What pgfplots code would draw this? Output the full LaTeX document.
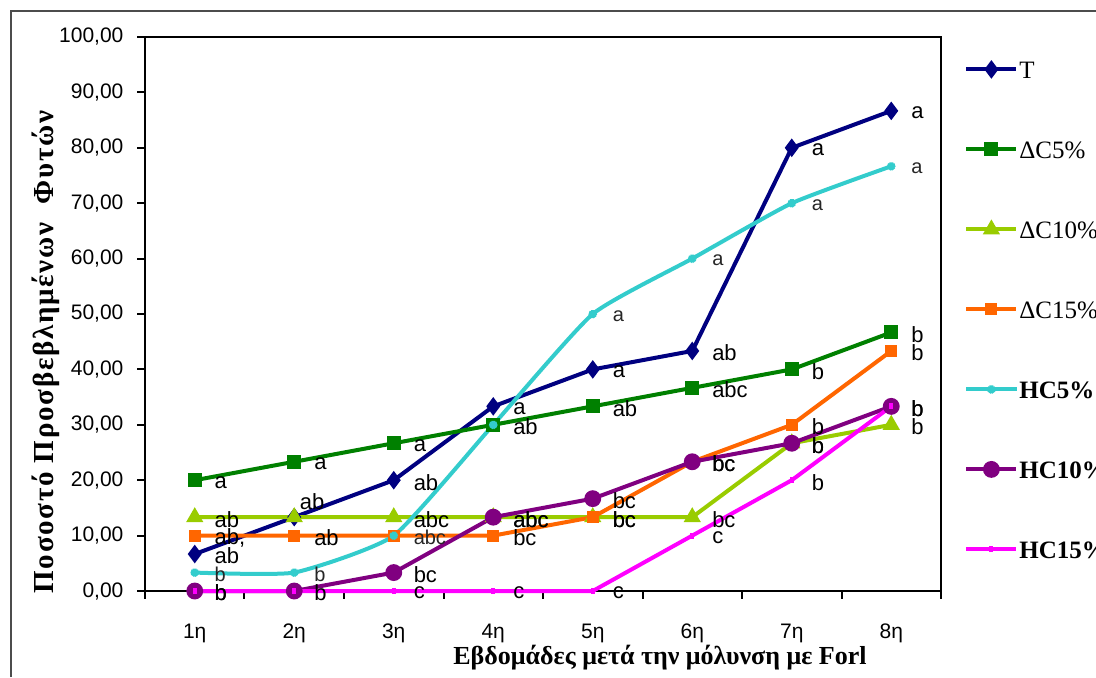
\documentclass[border=0pt]{standalone}
\usepackage{fontspec}
\setmainfont{Liberation Sans}
\newfontfamily\tnr{Liberation Serif}
\newfontfamily\tnrwide[LetterSpace=6]{Liberation Serif}
\usepackage{pgfplots}
\pgfplotsset{compat=1.18}

\definecolor{cT}{RGB}{0,0,128}
\definecolor{cDa}{RGB}{0,128,0}
\definecolor{cDb}{RGB}{153,204,0}
\definecolor{cDc}{RGB}{255,102,0}
\definecolor{cHa}{RGB}{51,204,204}
\definecolor{cHb}{RGB}{128,0,128}
\definecolor{cHc}{RGB}{255,0,255}

\begin{document}
\begin{tikzpicture}
\path[use as bounding box] (-72.5pt,-43pt) rectangle (475.5pt,295.5pt);
\draw[black!70, line width=0.7pt] (-67pt,-43pt) -- (-67pt,290pt) -- (475.5pt,290pt);
\begin{axis}[
  at={(0,0)}, anchor=south west,
  scale only axis, width=398pt, height=277pt,
  xmin=0.5, xmax=8.5, ymin=0, ymax=100,
  clip=false,
  axis line style={line width=1pt},
  tick style={line width=1pt, black},
  tick align=outside,
  xtick pos=bottom, ytick pos=left,
  major tick length=3.75pt,
  ytick={0,10,...,100},
  xtick={0.5,1.5,...,8.5},
  xticklabels={1η,2η,3η,4η,5η,6η,7η,8η,{}},
  xticklabel style={xshift=24.875pt, yshift=-9pt, font=\fontsize{10.5}{12}\selectfont},
  yticklabel style={xshift=-3.5pt, font=\fontsize{10.5}{12}\selectfont},
  /pgf/number format/assume math mode=true,
  yticklabel={\pgfmathprintnumber[fixed,fixed zerofill,precision=2,use comma]{\tick}},
  xlabel={\tnr\bfseries Εβδομάδες μετά την μόλυνση με Forl},
  xlabel style={at={(axis description cs:0.647,0)}, anchor=center, yshift=-33.5pt, font=\fontsize{13}{15}\selectfont},
  ylabel={\tnrwide\bfseries Ποσοστό Προσβεβλημένων~ Φυτών},
  ylabel style={at={(axis description cs:-0.1244,0.431)}, anchor=center, font=\fontsize{14.5}{16}\selectfont},
  legend style={at={(1,1)}, anchor=north west, xshift=11.5pt, yshift=-11pt, draw=none, fill=none, inner sep=0pt,
    font=\tnr\fontsize{12.5}{14}\selectfont, row sep=30pt,
    nodes={inner sep=0.5pt, text height=9pt, text depth=0pt, anchor=west}},
  legend cell align=left,
  legend image code/.code={\draw[mark repeat=2,mark phase=2,#1] plot coordinates {(0pt,0pt) (12.5pt,0pt) (25pt,0pt)};},
  every axis plot/.append style={line width=2pt},
  nodes near coords,
  point meta=explicit symbolic,
  nodes near coords align={anchor=west},
  every node near coord/.append style={anchor=west, xshift=9pt, yshift=-1pt, inner sep=0pt, text=black, font=\fontsize{11}{12}\selectfont},
]
\addplot[color=cT, mark=diamond*, mark size=3pt] coordinates {(1,6.67)[ab] (2,13.33)[] (3,20)[ab] (4,33.33)[a] (5,40)[a] (6,43.33)[ab] (7,80)[a] (8,86.67)[a]};
\addlegendentry{T}
\addplot[color=cDa, mark=square*, mark size=2.5pt] coordinates {(1,20)[a] (2,23.33)[a] (3,26.67)[a] (4,30)[ab] (5,33.33)[ab] (6,36.67)[abc] (7,40)[b] (8,46.67)[b]};
\addlegendentry{ΔC5\%}
\addplot[color=cDb, mark=triangle*, mark size=3pt] coordinates {(1,13.33)[ab] (2,13.33)[] (3,13.33)[abc] (4,13.33)[abc] (5,13.33)[bc] (6,13.33)[bc] (7,26.67)[b] (8,30)[b]};
\addlegendentry{ΔC10\%}
\addplot[color=cDc, mark=square*, mark size=2pt] coordinates {(1,10)[{ab,}] (2,10)[ab] (3,10)[] (4,10)[bc] (5,13.33)[bc] (6,23.33)[bc] (7,30)[b] (8,43.33)[b]};
\addlegendentry{ΔC15\%}
\addplot[color=cHa, mark=star, mark size=2pt, smooth, tension=0.3, every node near coord/.append style={font=\fontsize{10}{12}\selectfont, text=black!85}] coordinates {(1,3.33)[b] (2,3.33)[b] (3,10)[abc] (4,30)[] (5,50)[a] (6,60)[a] (7,70)[a] (8,76.67)[a]};
\addlegendentry{\bfseries HC5\%}
\addplot[color=cHb, mark=*, mark size=3.2pt] coordinates {(1,0)[b] (2,0)[b] (3,3.33)[bc] (4,13.33)[abc] (5,16.67)[bc] (6,23.33)[bc] (7,26.67)[b] (8,33.33)[b]};
\addlegendentry{\bfseries HC10\%}
\addplot[color=cHc, mark=|, mark size=1.5pt] coordinates {(1,0)[b] (2,0)[] (3,0)[c] (4,0)[c] (5,0)[c] (6,10)[c] (7,20)[b] (8,33.33)[b]};
\addlegendentry{\bfseries HC15\%}
\node[font=\fontsize{11}{12}\selectfont, anchor=center] at (axis cs:2.18,16.1) {ab};
\end{axis}
\end{tikzpicture}
\end{document}
